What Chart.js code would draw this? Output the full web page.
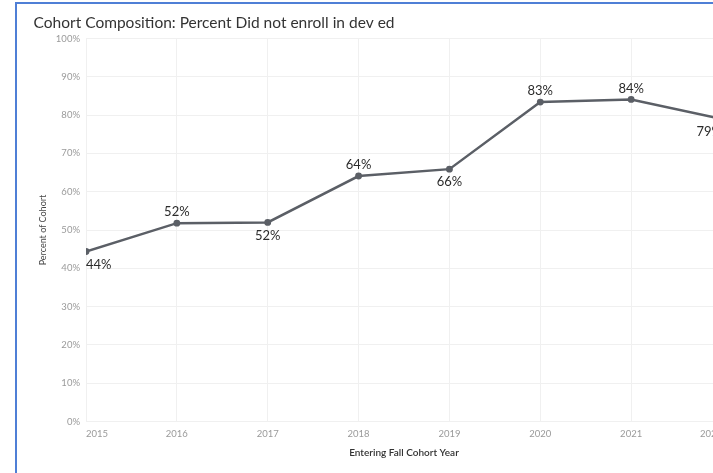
<!DOCTYPE html>
<html>
<head>
<meta charset="utf-8">
<script src="https://cdn.jsdelivr.net/npm/chart.js@4/dist/chart.umd.min.js"></script>
<style>
  html, body { margin: 0; padding: 0; background: #fff; overflow: hidden; width: 713px; height: 473px; }
  #frame { position: absolute; left: 15px; top: 2px; width: 720px; height: 480px; border: 2px solid #4f7fd6; }
  #chart { display: block; }
</style>
</head>
<body>
<div id="frame"><canvas id="chart" width="720" height="469"></canvas></div>
<script>
const TITLE = 'Cohort Composition: Percent Did not enroll in dev ed'
const years = [2015, 2016, 2017, 2018, 2019, 2020, 2021, 2022]
const pctNoDevEd = [44.4, 51.8, 52.0, 64.1, 65.9, 83.4, 84.1, 79.0]
const pctLabels = ['44%', '52%', '52%', '64%', '66%', '83%', '84%', '79%']
const labelSide = ['below', 'above', 'below', 'above', 'below', 'above', 'above', 'below']

const FONT = 'Lato, "Noto Sans", sans-serif'
const LINE_COLOR = '#5b5f66'

// labels on the points, kept inside the plot area like the original
const pointLabels = {
  id: 'pointLabels',
  afterDatasetsDraw(chart) {
    const ctx = chart.ctx
    const area = chart.chartArea
    const pts = chart.getDatasetMeta(0).data
    ctx.save()
    ctx.font = '13px ' + FONT
    ctx.fillStyle = '#2b2b2b'
    ctx.textBaseline = 'middle'
    ctx.textAlign = 'left'
    pts.forEach((p, i) => {
      const txt = pctLabels[i]
      const w = ctx.measureText(txt).width
      let x = p.x - w / 2
      if (x < area.left) x = area.left
      if (x + w > area.right) x = area.right - w
      const y = labelSide[i] === 'above' ? p.y - 11 : p.y + 13
      ctx.fillText(txt, x, y)
    })
    ctx.restore()
  }
}

const ctx = document.getElementById('chart')
const chart = new Chart(ctx, {
  type: 'line',
  data: {
    datasets: [{
      label: 'Did not enroll in dev ed',
      data: years.map((y, i) => ({ x: y, y: pctNoDevEd[i] })),
      borderColor: LINE_COLOR,
      backgroundColor: LINE_COLOR,
      borderWidth: 2.5,
      pointRadius: 2.2,
      pointHoverRadius: 2.2,
      tension: 0,
      fill: false
    }]
  },
  options: {
    responsive: false,
    devicePixelRatio: 1,
    animation: false,
    layout: { padding: { left: 16.6, right: 15, top: 0, bottom: 14 } },
    plugins: {
      legend: { display: false },
      tooltip: { enabled: false },
      title: {
        display: true,
        text: TITLE,
        align: 'start',
        color: '#333333',
        font: { family: FONT, size: 15.5, weight: 'normal' },
        padding: { top: 9.7, bottom: 6.2 }
      }
    },
    scales: {
      x: {
        type: 'linear',
        min: 2015,
        max: 2022,
        grid: { color: '#f0f0f0', drawTicks: false },
        border: { display: false },
        ticks: {
          stepSize: 1,
          align: 'inner',
          padding: 7,
          color: '#9a9a9a',
          font: { family: FONT, size: 9.5 },
          callback: v => String(v)
        },
        title: {
          display: true,
          text: 'Entering Fall Cohort Year',
          color: '#333333',
          font: { family: FONT, size: 10, weight: '600' },
          padding: { top: 0, bottom: 0 }
        }
      },
      y: {
        min: 0,
        max: 100,
        grid: { color: '#f0f0f0', drawTicks: false },
        border: { display: false },
        ticks: {
          stepSize: 10,
          padding: 6,
          color: '#9a9a9a',
          font: { family: FONT, size: 9.5 },
          callback: v => v + '%'
        },
        title: {
          display: true,
          text: 'Percent of Cohort',
          color: '#444444',
          font: { family: FONT, size: 9 },
          padding: { top: 4, bottom: 0 }
        },
        afterFit: scale => { scale.width = 52.4 }
      }
    }
  },
  plugins: [pointLabels]
})
</script>
</body>
</html>
